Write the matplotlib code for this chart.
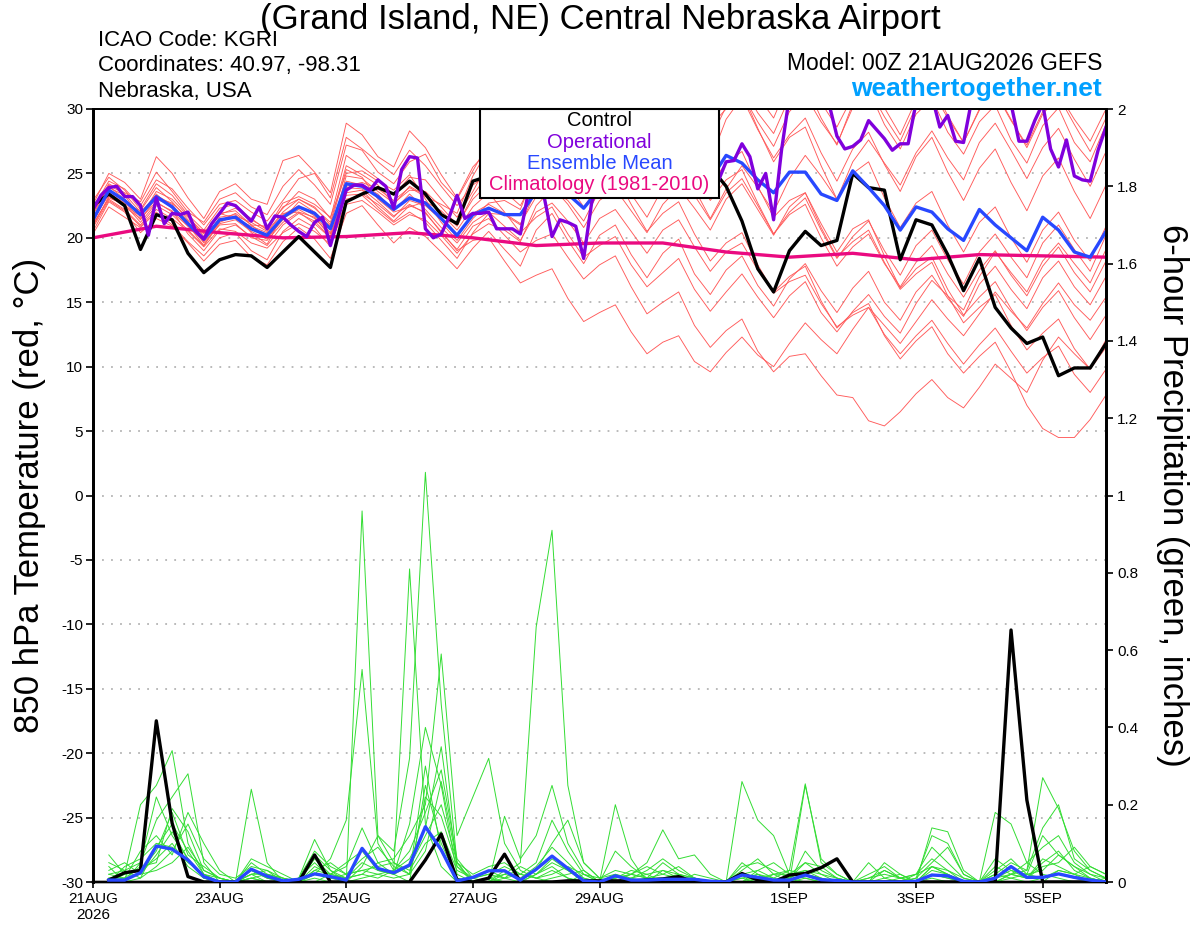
import numpy as np
import matplotlib
matplotlib.use("Agg")
from matplotlib import pyplot as plt
from matplotlib.patches import Rectangle

plt.rcParams['font.family'] = ['Liberation Sans', 'DejaVu Sans']
plt.rcParams['axes.unicode_minus'] = False

# forecast hours (6-hourly and 3-hourly for the operational run)
hours6 = np.arange(0, 385, 6)
hours3 = np.arange(0, 385, 3)
hours_clim = np.arange(0, 385, 24)

tick_hours = [0, 48, 96, 144, 192, 264, 312, 360]
tick_labels = ["21AUG\n2026", "23AUG", "25AUG", "27AUG", "29AUG", "1SEP", "3SEP", "5SEP"]
precip_ticks = [0, 0.2, 0.4, 0.6, 0.8, 1.0, 1.2, 1.4, 1.6, 1.8, 2.0]
precip_ticklabels = ["0", "0.2", "0.4", "0.6", "0.8", "1", "1.2", "1.4", "1.6", "1.8", "2"]

# 850 hPa temperature (C)
control_t = [22.5, 23.4, 22.5, 19.1, 21.8, 21.4, 18.8, 17.3,
             18.3, 18.7, 18.6, 17.7, 18.9, 20.1, 18.9, 17.7,
             22.8, 23.4, 23.9, 23.4, 24.4, 23.4, 21.8, 21.1,
             24.4, 24.8, 25.5, 26.0, 25.2, 24.0, 24.6, 25.8,
             26.5, 25.7, 25.0, 24.3, 25.1, 25.9, 26.2, 25.5,
             24.0, 21.3, 17.6, 15.8, 19.0, 20.5, 19.4, 19.8,
             25.0, 23.9, 23.7, 18.3, 21.4, 21.0, 18.7, 15.9,
             18.4, 14.6, 13.0, 11.8, 12.3, 9.3, 9.9, 9.9,
             11.8]

mean_t = [21.4, 23.7, 22.9, 21.8, 23.2, 22.4, 21.1, 19.9,
          21.4, 21.6, 20.7, 20.2, 21.6, 22.4, 21.9, 20.7,
          24.2, 24.0, 23.2, 22.2, 23.1, 22.7, 21.5, 20.2,
          21.8, 22.3, 21.8, 21.8, 23.6, 24.2, 23.4, 22.3,
          23.8, 24.5, 24.8, 25.0, 24.6, 25.2, 25.5, 24.5,
          26.4, 25.8, 24.5, 23.5, 25.1, 25.1, 23.4, 22.9,
          25.2, 23.9, 22.5, 20.6, 22.4, 22.0, 20.7, 19.8,
          22.2, 21.0, 20.0, 19.0, 21.6, 20.6, 18.9, 18.5,
          20.5]

operational_t = [22.2, 23.3, 23.9, 24.0, 23.2, 23.2, 22.5, 20.2,
                 23.1, 21.1, 21.9, 21.8, 22.0, 20.5, 19.9, 21.1,
                 21.9, 22.7, 22.5, 21.9, 21.3, 22.4, 20.7, 21.7,
                 21.6, 21.0, 20.5, 20.1, 21.2, 21.6, 19.4, 21.6,
                 23.7, 24.1, 24.1, 23.7, 24.5, 24.0, 22.3, 25.3,
                 26.3, 26.2, 20.7, 20.0, 20.3, 21.6, 23.3, 21.5,
                 21.9, 21.9, 22.0, 20.7, 20.7, 20.7, 20.3, 23.5,
                 24.5, 23.2, 20.1, 21.4, 21.2, 20.9, 18.4, 22.7,
                 24.5, 25.5, 26.2, 25.8, 26.6, 27.2, 26.5, 25.9,
                 26.8, 27.5, 26.9, 26.2, 25.6, 26.4, 25.2, 24.4,
                 25.9, 26.0, 27.3, 26.3, 23.8, 25.0, 21.4, 26.8,
                 31.0, 32.0, 31.5, 31.8, 31.2, 30.4, 27.9, 26.9,
                 27.1, 27.6, 29.1, 28.4, 27.7, 26.8, 27.3, 27.3,
                 30.5, 31.5, 31.0, 28.6, 29.5, 27.5, 27.4, 30.6,
                 31.8, 32.2, 31.6, 31.0, 30.4, 27.5, 27.5, 29.1,
                 30.4, 26.9, 25.5, 27.6, 24.8, 24.5, 24.4, 26.8,
                 28.6]

climatology_t = [20.0, 20.9, 20.4, 20.0, 20.1, 20.4, 20.0, 19.4, 19.6,
                 19.6, 18.9, 18.5, 18.8, 18.3, 18.7, 18.6, 18.5]

ens_t = [
    [22.0, 24.2, 23.5, 22.8, 25.1, 23.6, 22.0, 21.2, 23.0, 23.5, 22.4, 21.8, 24.0, 25.3, 24.1, 22.6,
     27.2, 26.8, 25.1, 24.2, 25.9, 26.5, 24.3, 23.0, 25.2, 27.4, 26.1, 25.5, 28.3, 29.6, 28.0, 26.9,
     29.5, 31.0, 29.2, 27.8, 30.5, 31.6, 29.4, 27.6, 30.2, 31.8, 29.7, 28.1, 30.9, 32.0, 29.3, 27.2,
     30.4, 31.5, 28.8, 26.9, 29.6, 30.8, 28.2, 26.5, 29.0, 30.3, 27.6, 25.8, 28.7, 30.1, 27.4, 25.9, 28.8],
    [20.5, 22.8, 22.0, 20.4, 21.5, 20.9, 19.6, 18.2, 19.5, 19.8, 18.5, 17.9, 19.7, 20.8, 19.9, 18.4,
     21.9, 22.5, 21.0, 19.6, 20.8, 20.1, 18.9, 17.6, 19.2, 20.5, 19.1, 17.8, 20.6, 21.9, 19.8, 18.0,
     20.2, 21.0, 18.7, 16.9, 18.8, 19.9, 17.2, 15.6, 17.5, 18.6, 16.3, 14.7, 16.8, 18.0, 15.9, 14.2,
     16.1, 17.4, 15.0, 13.6, 15.8, 17.1, 15.3, 13.9, 16.4, 17.8, 16.0, 14.5, 16.9, 18.2, 16.2, 14.8, 17.0],
    [21.0, 23.1, 22.6, 21.2, 22.7, 22.1, 20.3, 19.0, 20.6, 21.0, 20.1, 19.4, 21.0, 21.9, 21.3, 20.0,
     23.5, 23.7, 22.4, 21.3, 22.5, 22.0, 20.4, 19.1, 20.9, 21.5, 20.2, 18.9, 19.8, 20.3, 18.5, 16.8,
     17.9, 18.6, 16.2, 14.1, 15.0, 15.8, 13.2, 11.5, 12.8, 13.7, 11.2, 9.6, 10.8, 11.0, 9.3, 7.8,
     7.6, 5.8, 5.4, 6.5, 7.9, 9.0, 7.6, 6.8, 8.4, 10.2, 9.1, 8.0, 10.5, 12.3, 11.0, 9.8, 12.1],
    [22.6, 25.0, 24.3, 23.0, 26.3, 25.0, 23.1, 21.5, 23.6, 24.2, 23.0, 22.6, 26.0, 26.4, 25.1, 23.5,
     28.9, 28.0, 26.3, 25.5, 28.3, 27.0, 24.9, 23.1, 25.5, 26.8, 25.0, 23.8, 26.9, 28.3, 26.5, 24.6,
     27.8, 29.1, 27.0, 25.3, 28.6, 30.2, 28.1, 26.0, 29.2, 30.9, 28.4, 26.2, 28.0, 29.3, 26.6, 24.4,
     26.9, 28.2, 25.7, 23.6, 26.3, 27.8, 25.1, 22.9, 25.4, 26.9, 24.3, 22.1, 24.8, 26.2, 23.6, 21.5, 24.1],
    [21.8, 23.9, 23.3, 21.6, 23.6, 23.0, 21.7, 20.1, 21.8, 22.3, 21.5, 20.6, 22.4, 23.0, 22.3, 21.2,
     25.6, 24.9, 24.1, 22.6, 24.0, 23.3, 21.9, 20.6, 22.4, 23.5, 22.0, 20.4, 21.6, 22.4, 20.3, 18.5,
     19.4, 20.1, 17.9, 16.2, 17.3, 18.4, 16.0, 14.3, 15.8, 17.2, 15.4, 13.8, 15.5, 16.6, 14.2, 12.7,
     14.3, 15.6, 13.9, 12.6, 14.9, 16.7, 15.5, 14.4, 17.0, 18.9, 17.3, 15.8, 18.2, 19.6, 18.0, 16.5, 19.1],
    [21.2, 23.5, 22.7, 22.1, 23.9, 22.8, 21.4, 20.3, 21.9, 22.1, 21.0, 20.9, 22.3, 23.6, 23.0, 21.5,
     26.4, 25.5, 24.6, 23.3, 24.7, 24.5, 23.0, 21.6, 23.6, 25.9, 25.2, 24.1, 27.0, 28.8, 27.9, 26.6,
     29.8, 31.2, 30.0, 28.4, 31.3, 32.5, 30.8, 29.1, 31.6, 32.9, 31.0, 29.3, 32.2, 33.0, 30.5, 28.6,
     31.0, 32.3, 30.1, 28.0, 30.7, 31.9, 29.5, 27.4, 30.0, 31.4, 29.2, 27.0, 29.6, 31.0, 28.8, 26.7, 29.3],
    [20.8, 22.9, 22.1, 20.9, 22.2, 21.5, 20.5, 19.3, 20.7, 20.5, 19.6, 19.2, 20.4, 21.1, 20.5, 19.5,
     22.6, 22.9, 22.0, 21.0, 21.8, 21.4, 20.2, 18.8, 20.3, 21.1, 20.6, 19.7, 22.5, 23.8, 22.9, 21.3,
     23.7, 24.9, 23.4, 21.6, 23.9, 25.1, 23.3, 21.4, 23.5, 24.6, 22.5, 20.3, 22.0, 23.1, 20.6, 18.4,
     20.1, 21.3, 19.0, 17.1, 19.4, 20.6, 18.3, 16.4, 18.9, 20.3, 18.5, 16.9, 19.6, 21.0, 19.1, 17.4, 20.2],
    [22.1, 24.0, 23.0, 21.9, 23.0, 22.5, 21.3, 19.6, 21.0, 21.1, 20.0, 19.8, 21.2, 22.0, 21.6, 20.1,
     23.9, 23.8, 22.8, 21.7, 22.6, 21.9, 20.5, 19.0, 19.8, 20.0, 18.2, 16.5, 17.1, 17.6, 15.3, 13.5,
     14.2, 14.8, 12.7, 11.0, 11.9, 12.4, 10.4, 9.6, 11.1, 12.3, 10.9, 10.0, 11.8, 13.4, 12.1, 11.0,
     12.9, 14.6, 13.2, 11.8, 13.5, 15.2, 13.7, 12.4, 14.1, 15.8, 14.3, 13.0, 14.9, 16.5, 14.8, 13.6, 15.4],
    [22.3, 24.4, 23.8, 22.5, 24.5, 23.8, 22.3, 21.0, 22.6, 22.9, 22.0, 21.3, 22.9, 24.6, 25.0, 23.1,
     27.8, 26.9, 25.9, 24.9, 26.8, 25.6, 24.0, 22.5, 24.1, 25.0, 24.3, 23.2, 26.0, 27.5, 26.8, 25.7,
     28.6, 30.3, 29.5, 28.0, 30.6, 31.9, 30.4, 28.7, 30.0, 31.2, 29.0, 27.1, 29.8, 31.1, 29.0, 27.3,
     30.1, 31.6, 29.4, 27.5, 30.2, 31.4, 29.3, 27.4, 29.9, 31.3, 29.1, 27.2, 29.8, 31.2, 29.2, 27.5, 30.0],
    [21.5, 23.3, 22.4, 21.5, 22.8, 22.0, 20.9, 19.8, 21.6, 21.8, 20.4, 19.5, 21.8, 22.5, 21.7, 20.4,
     24.8, 24.6, 23.6, 22.7, 23.7, 23.6, 22.4, 21.0, 23.0, 24.2, 23.6, 22.5, 24.8, 25.6, 24.2, 22.4,
     24.1, 24.9, 22.6, 20.5, 21.9, 22.8, 20.3, 18.2, 19.6, 20.4, 17.9, 15.8, 17.0, 17.8, 15.1, 13.0,
     14.2, 14.9, 12.4, 10.6, 12.0, 13.1, 11.0, 9.5, 10.8, 11.9, 9.6, 7.0, 5.2, 4.5, 4.5, 5.9, 7.8],
    [20.3, 22.4, 21.6, 20.8, 22.0, 21.0, 19.7, 18.6, 20.0, 20.4, 19.0, 18.3, 20.5, 21.5, 20.8, 19.3,
     23.0, 23.3, 22.2, 21.2, 22.0, 21.2, 19.8, 18.4, 20.4, 21.9, 21.8, 21.0, 23.7, 25.3, 24.6, 23.4,
     26.1, 27.7, 26.8, 25.0, 27.3, 28.4, 26.3, 24.1, 25.8, 26.7, 24.0, 21.6, 22.9, 23.5, 20.8, 18.5,
     19.7, 20.6, 18.1, 16.0, 17.2, 18.1, 15.5, 13.4, 14.6, 15.6, 13.2, 11.3, 12.6, 13.7, 11.4, 9.8, 11.5],
    [22.9, 24.7, 23.7, 22.2, 24.2, 23.3, 21.8, 20.6, 22.3, 22.6, 21.4, 20.7, 22.7, 23.2, 22.6, 21.6,
     25.0, 25.2, 24.4, 23.7, 24.9, 23.0, 21.2, 19.8, 21.5, 22.7, 22.9, 22.2, 25.4, 26.7, 25.6, 24.0,
     26.5, 27.6, 25.5, 23.3, 25.0, 26.2, 23.8, 21.5, 23.8, 25.6, 23.9, 22.0, 24.6, 26.4, 24.8, 23.0,
     25.9, 27.6, 25.8, 24.1, 26.6, 28.3, 26.2, 24.5, 27.4, 28.9, 26.8, 24.6, 27.0, 28.5, 26.1, 24.0, 26.7],
    [21.9, 24.1, 23.4, 22.0, 23.3, 22.6, 21.0, 19.4, 21.3, 21.9, 21.0, 20.0, 21.4, 22.8, 22.0, 20.9,
     24.0, 24.3, 23.8, 22.9, 23.9, 23.2, 22.6, 21.9, 24.8, 26.9, 26.3, 25.2, 28.2, 30.1, 29.3, 27.9,
     30.8, 32.4, 31.2, 29.3, 31.8, 32.8, 31.0, 28.8, 30.6, 31.3, 28.5, 25.9, 27.8, 28.6, 25.6, 23.0,
     25.0, 25.9, 23.1, 20.8, 22.7, 23.6, 21.0, 18.9, 21.2, 22.4, 20.0, 18.1, 20.6, 22.0, 19.8, 18.2, 20.9],
    [21.1, 23.0, 22.2, 21.0, 22.5, 21.8, 20.6, 19.4, 21.1, 21.4, 20.5, 19.9, 21.5, 22.2, 21.5, 20.3,
     23.3, 23.4, 22.6, 21.6, 22.9, 22.5, 21.4, 20.1, 21.9, 22.6, 21.9, 21.1, 23.2, 24.0, 22.6, 20.8,
     22.9, 23.8, 22.1, 20.4, 22.6, 23.9, 22.3, 20.6, 23.0, 24.2, 22.2, 20.2, 22.4, 23.5, 21.1, 18.9,
     20.7, 21.4, 18.6, 16.1, 17.6, 18.5, 16.0, 14.0, 15.4, 16.6, 14.5, 12.8, 14.6, 15.9, 13.8, 12.1, 14.0],
    [22.4, 23.8, 22.8, 21.4, 23.1, 22.7, 21.6, 20.4, 21.9, 21.5, 20.9, 20.4, 21.9, 22.0, 21.1, 20.0,
     24.4, 24.1, 23.4, 22.1, 23.4, 22.2, 20.8, 19.6, 21.2, 22.0, 20.9, 19.8, 22.0, 22.7, 21.3, 19.6,
     21.5, 22.2, 20.5, 18.8, 20.6, 21.4, 19.3, 17.4, 18.9, 19.6, 17.5, 15.7, 16.6, 17.1, 14.9, 13.1,
     14.0, 14.6, 12.5, 11.0, 12.4, 13.6, 11.8, 10.2, 11.7, 13.0, 11.2, 9.5, 10.7, 11.6, 9.4, 8.0, 9.8],
    [20.9, 23.2, 22.5, 21.7, 23.4, 22.3, 20.9, 19.7, 21.2, 21.7, 21.2, 20.5, 22.0, 23.0, 22.4, 21.0,
     25.3, 24.7, 23.0, 22.0, 22.4, 22.8, 22.1, 20.9, 23.3, 25.0, 24.6, 23.5, 26.4, 27.9, 27.0, 25.2,
     27.5, 28.6, 26.7, 24.5, 26.6, 27.5, 25.0, 22.9, 24.5, 25.3, 22.7, 20.3, 21.8, 22.6, 20.0, 17.8,
     19.3, 20.3, 18.0, 16.2, 18.1, 19.4, 17.2, 15.4, 17.5, 19.0, 17.1, 15.5, 17.8, 19.3, 17.3, 15.8, 18.2],
]

# 6-hour precipitation (inches), from hour 6 to 384
control_p = [0.005, 0.024, 0.03, 0.417, 0.152, 0.014, 0, 0,
             0, 0, 0, 0, 0, 0.07, 0, 0,
             0, 0, 0, 0, 0.057, 0.124, 0.005, 0,
             0.01, 0.072, 0, 0, 0, 0.003, 0.003, 0.003,
             0.003, 0.003, 0.005, 0.008, 0.014, 0, 0, 0,
             0.022, 0.005, 0, 0.018, 0.022, 0.037, 0.06, 0,
             0, 0, 0, 0, 0, 0, 0, 0,
             0, 0.652, 0.212, 0, 0, 0, 0, 0]

mean_p = [0.005, 0.005, 0.024, 0.093, 0.085, 0.057, 0.014, 0,
          0, 0.033, 0.015, 0.003, 0.007, 0.021, 0.014, 0.005,
          0.087, 0.035, 0.024, 0.044, 0.143, 0.083, 0.003, 0.012,
          0.029, 0.029, 0.005, 0.033, 0.067, 0.035, 0.003, 0,
          0.016, 0.005, 0.005, 0.007, 0.007, 0.007, 0.002, 0,
          0.018, 0.012, 0.005, 0.005, 0.018, 0.006, 0.004, 0,
          0, 0, 0, 0.002, 0.018, 0.016, 0.002, 0,
          0.01, 0.04, 0.012, 0.012, 0.021, 0.012, 0.005, 0]

ens_p = [
    [.07, .02, .20, .25, .34, .10, .02, 0, 0, .03, .01, 0, 0, 0, .02, .04,
     .14, .05, .02, 0, .25, .10, .01, 0, 0, .02, .05, .66, .91, .25, .05, .01,
     .02, 0, 0, .03, .01, 0, 0, 0, .05, .02, 0, 0, .01, 0, 0, 0,
     0, 0, 0, .02, .04, .02, 0, 0, 0, .02, .03, .27, .19, .08, .03, .01],
    [.02, .03, .05, .16, .22, .28, .05, 0, 0, .01, 0, 0, .01, .11, .03, 0,
     .96, .12, .05, .02, .30, .08, 0, 0, .01, 0, 0, .02, .04, .01, 0, 0,
     .20, .06, 0, 0, 0, .01, 0, 0, 0, .03, .01, 0, .25, .06, .02, 0,
     0, 0, 0, 0, .14, .13, .03, 0, 0, 0, 0, .01, .02, .01, 0, 0],
    [0, .01, .08, .12, .07, .18, .10, .03, 0, .24, .05, 0, 0, .02, .06, .16,
     .55, .10, .03, .81, .15, .04, 0, .01, .03, .01, 0, 0, .01, .02, .03, 0,
     0, .02, .05, .135, .06, .07, .02, 0, .01, 0, 0, 0, .02, .01, 0, 0,
     .05, .01, 0, 0, .02, .01, 0, 0, .18, .15, .05, .02, .01, 0, 0, .01],
    [.04, 0, .05, .22, .12, .06, .01, 0, 0, .02, .02, 0, .01, .05, .01, 0,
     .04, .12, .08, .32, 1.06, .46, .05, 0, 0, .01, .02, .05, .16, .08, .02, 0,
     .02, .01, 0, 0, 0, 0, 0, 0, .26, .16, .12, .02, .01, 0, 0, 0,
     0, .05, .02, 0, .01, 0, 0, 0, .01, .03, .01, .05, .08, .03, .01, 0],
    [0, 0, .01, .09, .15, .08, .02, 0, 0, .06, .04, .02, 0, .04, .02, .01,
     .02, .05, .06, .12, .20, .59, .12, .22, .32, .10, .03, .01, 0, 0, .02, .01,
     0, 0, .01, .05, .02, .01, 0, 0, 0, 0, .02, .03, .254, .05, .02, 0,
     0, 0, 0, .01, .12, .10, .02, 0, .02, .01, 0, 0, .03, .02, 0, 0],
    [.01, .02, .03, .06, .10, .04, .01, 0, 0, .01, 0, 0, .01, .08, .04, .02,
     .03, .02, .01, .02, .22, .17, .04, .01, 0, .17, .06, .12, .25, .10, .03, 0,
     .08, .04, .01, 0, 0, .02, .01, 0, 0, .02, 0, .01, 0, 0, 0, 0,
     0, .03, .01, 0, .04, .02, 0, 0, .06, .03, .02, .12, .07, .04, .01, 0],
    [.03, .05, .02, .07, .13, .06, .01, 0, 0, .02, .03, .01, 0, .03, .02, .05,
     .08, .03, .02, .15, .40, .25, .02, 0, .01, .02, .01, .03, .10, .16, .05, .01,
     .03, .02, .01, .02, .04, .01, 0, 0, .03, .06, .02, 0, .08, .03, .01, 0,
     .02, .04, .01, .02, .06, .03, .01, 0, .02, .05, .03, .14, .20, .06, .03, .01],
    [0, .04, .06, .10, .09, .05, .02, .01, 0, .03, .01, 0, 0, .01, 0, 0,
     .01, .02, .03, .06, .14, .35, .04, 0, .01, 0, 0, .02, .06, .03, 0, 0,
     .01, .03, .02, 0, .01, 0, 0, 0, .02, .01, 0, .01, .05, .02, 0, 0,
     .01, .02, .01, 0, .03, .02, 0, 0, .01, .02, .01, .04, .05, .09, .04, .02],
    [.01, .01, .04, .05, .19, .13, .03, .01, 0, .05, .02, .01, 0, .06, .02, .01,
     .05, .03, .02, .04, .12, .20, .05, .02, .04, .05, .02, .01, .03, .01, 0, 0,
     0, .01, .02, .03, .02, 0, 0, 0, .04, .05, .03, .01, .03, .02, .01, 0,
     0, .01, .02, 0, .02, .01, 0, 0, .03, .06, .02, .03, .07, .04, .02, .01],
    [.02, .01, .02, .03, .05, .09, .03, .01, 0, .02, 0, 0, 0, .02, .01, .02,
     .03, .04, .05, .03, .10, .13, .03, .01, .02, .01, .04, .02, .05, .03, .01, 0,
     .01, .02, .04, .02, .01, 0, 0, 0, .01, .02, .01, .03, .02, .01, 0, 0,
     0, 0, 0, .01, .05, .09, .02, 0, 0, .01, .02, .01, .03, .02, .04, .02],
    [.05, .03, .01, .04, .08, .15, .06, .02, .01, .04, .03, 0, 0, .03, .05, .02,
     .06, .09, .04, .02, .08, .26, .05, 0, 0, .03, .01, .04, .09, .05, .01, 0,
     0, .01, .03, .06, .03, .01, 0, 0, 0, .01, .02, .02, .05, .04, .01, 0,
     0, 0, .01, .02, .09, .05, .01, 0, 0, .02, .05, .09, .12, .05, .02, 0],
    [0, .02, .03, .08, .18, .07, .04, .01, 0, .01, .02, .01, 0, .07, .03, .01,
     .02, .01, .03, .08, .18, .29, .06, .01, .02, .04, .02, .01, .02, .04, .02, 0,
     .01, .02, .01, .01, .02, .01, 0, 0, .02, .03, .05, .02, .03, .01, 0, 0,
     .01, .03, .01, 0, .04, .03, 0, 0, .04, .02, .01, .06, .04, .02, .01, 0],
]

fig = plt.figure(figsize=(12, 9.27), dpi=100)
ax = fig.add_axes([93 / 1200, 1 - 882 / 927, 1013 / 1200, 773 / 927])
ax.set_xlim(0, 384)
ax.set_ylim(-30, 30)
ax.set_yticks(range(-30, 31, 5))
ax.grid(axis='y', color='#b4b4b4', linestyle=(0, (1, 4)), linewidth=1.3)
ax.set_axisbelow(True)

for member in ens_t:
    ax.plot(hours6, member, color='#ff5a5a', lw=0.65, zorder=2)
ax.plot(hours_clim, climatology_t, color='#ea0a80', lw=2.4, zorder=4)
ax.plot(hours6, control_t, color='black', lw=2.4, zorder=5)
ax.plot(hours6, mean_t, color='#2848ff', lw=2.4, zorder=6)
ax.plot(hours3, operational_t, color='#8000dc', lw=2.4, zorder=7)

ax2 = ax.twinx()
ax2.set_ylim(0, 2)
ax2.set_yticks(precip_ticks)
ax2.set_yticklabels(precip_ticklabels)
for member in ens_p:
    ax2.plot(hours6[1:], member, color='#33dd33', lw=0.7, zorder=2)
ax2.plot(hours6[1:], control_p, color='black', lw=2.4, zorder=5)
ax2.plot(hours6[1:], mean_p, color='#2848ff', lw=2.4, zorder=6)

ax.set_xticks(tick_hours)
ax.set_xticklabels(tick_labels)
ax.tick_params(axis='x', direction='out', length=4, width=1.2, labelsize=11, pad=3)
ax.tick_params(axis='y', direction='out', length=5, width=1.2, labelsize=11, pad=2)
ax2.tick_params(axis='y', direction='out', length=5, width=1.2, labelsize=11, pad=3)

for a in (ax, ax2):
    a.spines['left'].set_linewidth(2.0)
    a.spines['right'].set_linewidth(2.0)
    a.spines['top'].set_linewidth(1.3)
    a.spines['bottom'].set_linewidth(1.7)

# legend box
ax2.add_patch(Rectangle((0.382, 0.885), 0.236, 0.115, transform=ax2.transAxes,
                        facecolor='white', edgecolor='black', lw=1.5, zorder=20, clip_on=False))
legend_items = [("Control", 'black'), ("Operational", '#8000dc'),
                ("Ensemble Mean", '#2848ff'), ("Climatology (1981-2010)", '#ea0a80')]
for k, (label, col) in enumerate(legend_items):
    ax2.text(0.5, 0.9845 - k * 0.0275, label, color=col, fontsize=14.5,
             ha='center', va='center', transform=ax2.transAxes, zorder=21)

fig.text(0.5, 1 - 19 / 927, "(Grand Island, NE) Central Nebraska Airport",
         fontsize=25, ha='center', va='center')
fig.text(98 / 1200, 1 - 40 / 927, "ICAO Code: KGRI", fontsize=16, ha='left', va='center')
fig.text(98 / 1200, 1 - 66 / 927, "Coordinates: 40.97, -98.31", fontsize=16, ha='left', va='center')
fig.text(98 / 1200, 1 - 92 / 927, "Nebraska, USA", fontsize=16, ha='left', va='center')
fig.text(1102 / 1200, 1 - 63 / 927, "Model: 00Z 21AUG2026 GEFS", fontsize=16.5, ha='right', va='center')
fig.text(1102 / 1200, 1 - 89 / 927, "weathertogether.net", fontsize=19, fontweight='bold',
         color='#00a0ff', ha='right', va='center')
fig.text(30 / 1200, 1 - 495 / 927, "850 hPa Temperature (red, °C)", fontsize=25,
         rotation=90, ha='center', va='center')
fig.text(1172 / 1200, 1 - 495 / 927, "6-hour Precipitation (green, inches)", fontsize=25,
         rotation=-90, ha='center', va='center')

fig.savefig("out.png", dpi=100)
